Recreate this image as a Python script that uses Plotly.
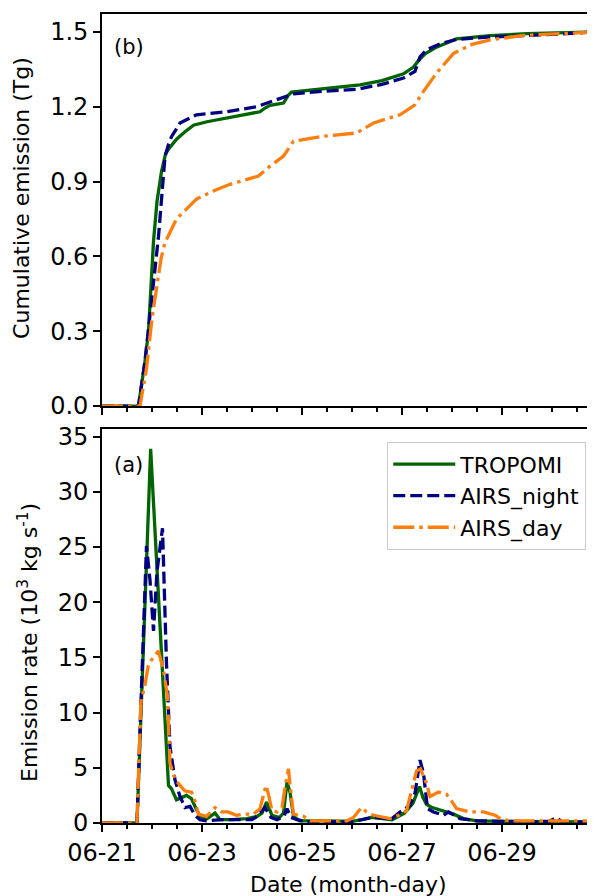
import pandas as pd
import plotly.graph_objects as go

# time axis in days after 2019-06-21 00:00 (UTC)
START = pd.Timestamp("2019-06-21")

# (a) emission rate, 10^3 kg/s
tropomi_rate_days = [0, 0.70, 0.973, 1.33, 1.39, 1.49, 1.59, 1.69, 1.79, 1.89, 1.97, 2.10, 2.26, 2.36,
                     2.60, 2.90, 3.10, 3.20, 3.29, 3.40, 3.55, 3.63, 3.70, 3.76, 3.83, 3.95, 4.50,
                     5.00, 5.20, 5.40, 5.80, 6.05, 6.22, 6.35, 6.42, 6.49, 6.60, 6.76, 7.03, 7.23,
                     7.50, 8.00, 9.00, 9.86]
tropomi_rate = [0, 0, 33.9, 3.4, 3.1, 2.1, 2.3, 2.5, 2.2, 1.2, 0.6, 0.4, 0.9, 0.3,
                0.3, 0.4, 0.6, 0.9, 1.9, 0.7, 0.5, 0.9, 3.7, 2.8, 0.6, 0.2, 0.2,
                0.15, 0.3, 0.5, 0.3, 0.9, 1.8, 3.3, 2.3, 1.7, 1.4, 1.2, 0.8, 0.4,
                0.2, 0.15, 0.1, 0.1]

night_rate_days = [0, 0.70, 0.76, 0.83, 0.89, 0.96, 1.03, 1.10, 1.21, 1.29, 1.36, 1.46, 1.56, 1.66,
                   1.76, 1.86, 1.96, 2.10, 2.40, 2.70, 3.00, 3.10, 3.26, 3.38, 3.50, 3.64, 3.70,
                   3.78, 3.90, 4.10, 5.00, 5.40, 5.80, 5.96, 6.16, 6.26, 6.36, 6.43, 6.46, 6.51,
                   6.63, 6.83, 6.93, 7.16, 7.50, 8.50, 8.95, 9.09, 9.20, 9.86]
night_rate = [0, 0, 8.4, 17.4, 25.1, 22.0, 17.4, 22.8, 26.7, 14.4, 6.9, 3.9, 2.4, 1.4,
              1.5, 0.7, 0.3, 0.2, 0.3, 0.3, 0.3, 0.6, 1.4, 0.5, 0.3, 0.6, 1.3,
              0.5, 0.3, 0.1, 0.1, 0.5, 0.4, 1.0, 1.6, 2.7, 5.7, 4.5, 3.0, 1.3,
              1.0, 0.7, 1.0, 0.4, 0.2, 0.1, 0.15, 0.5, 0.1, 0.1]

day_rate_days = [0, 0.70, 0.74, 0.78, 0.86, 0.93, 1.03, 1.13, 1.23, 1.31, 1.36, 1.46, 1.56, 1.66,
                 1.79, 1.86, 1.93, 2.09, 2.26, 2.39, 2.52, 2.69, 2.85, 3.03, 3.16, 3.28, 3.33,
                 3.40, 3.50, 3.60, 3.67, 3.73, 3.76, 3.79, 3.83, 4.03, 4.16, 4.90, 5.03, 5.19,
                 5.29, 5.43, 5.76, 5.93, 6.09, 6.29, 6.37, 6.49, 6.56, 6.73, 6.89, 6.99, 7.09,
                 7.36, 7.63, 7.86, 8.00, 8.20, 9.86]
day_rate = [0, 0, 6.0, 11.0, 12.5, 14.4, 15.0, 15.6, 13.8, 11.5, 5.4, 4.0, 3.4, 2.9,
            2.8, 2.0, 0.8, 0.6, 1.4, 1.0, 1.0, 0.7, 0.8, 0.8, 1.3, 3.4, 2.6,
            1.1, 1.0, 1.4, 3.5, 4.9, 3.5, 2.0, 0.8, 0.6, 0.2, 0.2, 0.5, 1.4,
            1.0, 0.7, 0.4, 0.7, 1.1, 4.7, 4.9, 3.6, 2.4, 2.8, 2.6, 2.0, 1.3,
            1.0, 1.0, 0.7, 0.3, 0.2, 0.2]

# (b) cumulative emission, Tg
tropomi_cum_days = [0, 0.73, 0.86, 0.93, 1.03, 1.10, 1.19, 1.27, 1.33, 1.49, 1.66, 1.83, 2.10, 2.43,
                    2.80, 3.16, 3.26, 3.36, 3.63, 3.72, 3.79, 4.10, 4.43, 4.80, 5.16, 5.60, 6.03,
                    6.23, 6.33, 6.46, 6.70, 7.09, 7.76, 8.50, 9.86]
tropomi_cum = [0, 0, 0.18, 0.30, 0.66, 0.82, 0.94, 1.01, 1.03, 1.07, 1.10, 1.126, 1.14, 1.153,
               1.167, 1.18, 1.195, 1.206, 1.215, 1.245, 1.259, 1.266, 1.272, 1.28, 1.288, 1.305, 1.332,
               1.359, 1.385, 1.412, 1.44, 1.472, 1.485, 1.493, 1.50]

night_cum_days = [0, 0.73, 0.86, 0.99, 1.13, 1.26, 1.33, 1.39, 1.56, 1.89, 2.50, 3.09, 3.36, 3.69,
                  3.83, 4.40, 5.09, 5.60, 6.03, 6.26, 6.36, 6.49, 6.80, 7.09, 7.76, 9.00, 9.86]
night_cum = [0, 0, 0.18, 0.42, 0.68, 1.00, 1.05, 1.08, 1.135, 1.168, 1.18, 1.20, 1.22, 1.242,
             1.252, 1.262, 1.27, 1.29, 1.315, 1.342, 1.40, 1.428, 1.455, 1.47, 1.48, 1.49, 1.50]

day_cum_days = [0, 0.76, 0.89, 1.00, 1.09, 1.18, 1.26, 1.49, 1.89, 2.20, 2.56, 3.13, 3.36, 3.63,
                3.83, 4.43, 5.09, 5.43, 5.96, 6.26, 6.43, 6.69, 7.03, 7.40, 7.76, 8.43, 9.86]
day_cum = [0, 0, 0.15, 0.35, 0.47, 0.59, 0.656, 0.75, 0.83, 0.86, 0.889, 0.922, 0.962, 1.002,
           1.062, 1.082, 1.095, 1.135, 1.168, 1.208, 1.262, 1.335, 1.414, 1.45, 1.468, 1.486, 1.50]

SERIES = [
  # name, colour, dash
  ("TROPOMI", "#006400", "solid"),
  ("AIRS_night", "#000080", "12px,5px"),
  ("AIRS_day", "#ff7f0e", "21px,5px,3.5px,5px"),
]
RATES = [(tropomi_rate_days, tropomi_rate), (night_rate_days, night_rate), (day_rate_days, day_rate)]
CUMS = [(tropomi_cum_days, tropomi_cum), (night_cum_days, night_cum), (day_cum_days, day_cum)]

FONT = "DejaVu Sans"


def to_time(days):
  return START + pd.to_timedelta(days, unit="D")


fig = go.Figure()

for (name, color, dash), (d, v) in zip(SERIES, CUMS):
  fig.add_trace(go.Scatter(
    x = to_time(d), y = v, mode = "lines", name = name,
    line = dict(color = color, width = 3.3, dash = dash),
    xaxis = "x", yaxis = "y", showlegend = False
  ))

for (name, color, dash), (d, v) in zip(SERIES, RATES):
  fig.add_trace(go.Scatter(
    x = to_time(d), y = v, mode = "lines", name = name,
    line = dict(color = color, width = 3.3, dash = dash),
    xaxis = "x2", yaxis = "y2"
  ))

x_range = [START, START + pd.Timedelta(days = 9.86)]
x_common = dict(
  type = "date",
  range = x_range,
  tick0 = START,
  dtick = 2 * 86400000,
  tickformat = "%m-%d",
  ticks = "outside", ticklen = 7, tickwidth = 1.6, tickcolor = "black",
  minor = dict(dtick = 12 * 3600000, ticks = "outside", ticklen = 4.5, tickwidth = 1.6, tickcolor = "black"),
  showline = True, linecolor = "black", linewidth = 1.6, mirror = True,
  showgrid = False, zeroline = False,
  tickfont = dict(size = 24, color = "black"),
)
y_common = dict(
  ticks = "outside", ticklen = 7, tickwidth = 1.6, tickcolor = "black",
  showline = True, linecolor = "black", linewidth = 1.6, mirror = False,
  showgrid = False, zeroline = False,
  tickfont = dict(size = 24, color = "black"),
)

# the page body adds an 8px margin, so the figure is shifted 8px and kept inside the window
fig.update_layout(
  width = 587, height = 888,
  margin = dict(l = 94, r = 0, t = 2, b = 73),
  paper_bgcolor = "white", plot_bgcolor = "white",
  font = dict(family = FONT, color = "black", size = 22),
  xaxis = dict(x_common, anchor = "y", showticklabels = False),
  xaxis2 = dict(x_common, anchor = "y2", matches = "x"),
  yaxis = dict(y_common, domain = [0.5154, 1.0], range = [0, 1.572], anchor = "x",
               tickvals = [0, 0.3, 0.6, 0.9, 1.2, 1.5], tickformat = ".1f"),
  yaxis2 = dict(y_common, domain = [0, 0.4871], range = [0, 35.7], anchor = "x2",
                tickvals = [0, 5, 10, 15, 20, 25, 30, 35]),
  legend = dict(
    x = 0.578, y = 0.471, xanchor = "left", yanchor = "top",
    bordercolor = "#cccccc", borderwidth = 1.3, bgcolor = "white",
    font = dict(size = 22), tracegroupgap = 0, itemwidth = 62,
  ),
  showlegend = True,
)

# axis titles placed as annotations
fig.add_annotation(text = "Date (month-day)", xref = "x2 domain", yref = "paper",
                   x = 0.5, y = 0, yshift = -61, xanchor = "center", yanchor = "middle",
                   showarrow = False, font = dict(size = 22))
fig.add_annotation(text = "Cumulative emission (Tg)", textangle = -90,
                   xref = "x domain", yref = "y domain", x = -0.163, y = 0.53,
                   xanchor = "center", yanchor = "middle", showarrow = False, font = dict(size = 22))
fig.add_annotation(text = "Emission rate (10<sup>3</sup> kg s<sup>-1</sup>)", textangle = -90,
                   xref = "x2 domain", yref = "y2 domain", x = -0.150, y = 0.457,
                   xanchor = "center", yanchor = "middle", showarrow = False, font = dict(size = 22))

fig.add_annotation(text = "(b)", xref = "x domain", yref = "y domain", x = 0.02, y = 0.916,
                   xanchor = "left", yanchor = "middle", showarrow = False, font = dict(size = 21))
fig.add_annotation(text = "(a)", xref = "x2 domain", yref = "y2 domain", x = 0.02, y = 0.909,
                   xanchor = "left", yanchor = "middle", showarrow = False, font = dict(size = 21))

fig.write_html("out.html")
